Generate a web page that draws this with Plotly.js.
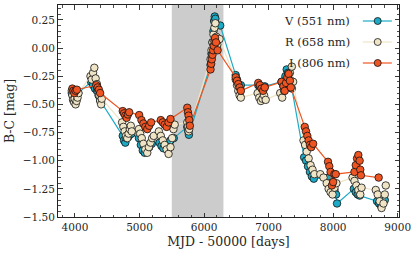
<!DOCTYPE html>
<html>
<head>
<meta charset="utf-8">
<script src="https://cdn.plot.ly/plotly-3.0.1.min.js"></script>
<style>html,body{margin:0;padding:0;background:#fff}#chart{width:415px;height:256px}</style>
</head>
<body>
<div id="chart"></div>
<script>
// ---- data (MJD - 50000, B-C colour) ----
const seriesNames = ["V (551 nm)", "R (658 nm)", "I (806 nm)"];

const mjdV = [3950,3965,3980,3995,4010,4030,4050,
  4250,4280,4310,4340,4365,4390,4405,
  4740,4760,4780,4800,4825,4850,4875,
  4990,5020,5050,5080,5110,5150,5190,
  5310,5340,5370,5400,5440,5480,5530,
  5740,5755,5765,
  6100,6115,6130,6145,6155,6165,6175,6250,
  6490,6510,6530,6550,6570,
  6840,6865,6890,6915,6940,
  7200,7230,7260,7280,7300,7330,7360,
  7550,7580,7610,7640,7670,7700,
  7930,7960,7990,8020,8045,8060,
  8320,8350,8380,8410,
  8680,8710,8740,8770,8800];
const bcV = [-0.40,-0.42,-0.44,-0.43,-0.41,-0.42,-0.40,
  -0.30,-0.33,-0.36,-0.38,-0.42,-0.46,-0.48,
  -0.78,-0.82,-0.84,-0.80,-0.79,-0.77,-0.76,
  -0.80,-0.86,-0.91,-0.93,-0.90,-0.88,-0.85,
  -0.84,-0.87,-0.89,-0.86,-0.84,-0.82,-0.80,
  -0.70,-0.74,-0.77,
  -0.15,-0.05,0.05,0.15,0.24,0.28,0.26,0.20,
  -0.24,-0.28,-0.32,-0.35,-0.33,
  -0.33,-0.35,-0.37,-0.36,-0.34,
  -0.30,-0.34,-0.25,-0.19,-0.22,-0.28,-0.36,
  -0.97,-1.00,-1.05,-1.10,-1.14,-1.16,
  -1.15,-1.20,-1.22,-1.26,-1.30,-1.38,
  -1.25,-1.28,-1.30,-1.31,
  -1.36,-1.38,-1.40,-1.37,-1.35];

const mjdR = [3950,3960,3970,3985,3995,4010,4025,4040,4055,
  4240,4260,4280,4300,4320,4340,4360,4375,4390,4405,4415,
  4730,4750,4770,4790,4810,4830,4850,4865,4880,
  4990,5010,5035,5060,5090,5120,5145,5170,5195,5220,
  5300,5330,5360,5390,5420,5450,5480,5505,5525,5545,
  5740,5750,5760,5770,
  6100,6115,6130,6145,6160,6175,6190,6205,6240,
  6490,6510,6530,6550,6570,
  6830,6855,6880,6905,6930,6955,
  7180,7210,7240,7270,7300,7330,7360,7380,
  7540,7565,7590,7620,7650,7680,7710,
  7800,7850,7900,7930,7960,7990,8020,8050,
  8300,8330,8360,8390,8420,8440,
  8660,8690,8720,8750,8780,8800,8815];
const bcR = [-0.38,-0.42,-0.46,-0.48,-0.45,-0.50,-0.47,-0.44,-0.40,
  -0.25,-0.28,-0.22,-0.175,-0.27,-0.32,-0.38,-0.42,-0.47,-0.50,-0.45,
  -0.66,-0.70,-0.74,-0.78,-0.80,-0.76,-0.72,-0.69,-0.74,
  -0.72,-0.76,-0.80,-0.85,-0.90,-0.93,-0.88,-0.84,-0.80,-0.78,
  -0.74,-0.78,-0.82,-0.86,-0.90,-0.94,-0.88,-0.80,-0.72,-0.68,
  -0.66,-0.70,-0.74,-0.72,
  -0.10,-0.02,0.05,0.12,0.18,0.22,0.10,0.03,0.08,
  -0.28,-0.33,-0.38,-0.42,-0.44,
  -0.40,-0.44,-0.47,-0.45,-0.42,-0.46,
  -0.40,-0.44,-0.38,-0.30,-0.26,-0.22,-0.165,-0.30,
  -0.82,-0.86,-0.92,-0.98,-1.04,-1.08,-1.12,
  -1.12,-1.15,-1.20,-1.25,-1.28,-1.30,-1.24,-1.20,
  -1.15,-1.18,-1.22,-1.26,-1.30,-1.24,
  -1.26,-1.30,-1.36,-1.42,-1.38,-1.30,-1.22];

const mjdI = [3960,3975,3990,4010,4030,
  4330,4350,4370,4390,
  4740,4760,4780,4800,4820,4840,
  4995,
  5030,5060,5090,5120,5150,5180,
  5330,5360,5390,5420,5450,5480,
  5740,5750,5760,5770,5780,
  6100,6110,6120,6130,6140,6150,6160,6170,6185,6210,
  6490,6510,6530,6550,6570,
  6840,6865,6890,6915,6940,
  7200,7230,7250,7270,7290,7310,7330,7345,
  7560,7580,7600,7620,7640,7660,7690,
  7920,7940,7960,7980,8000,8020,8040,
  8330,8350,8370,8390,8410,8420,8430,
  8705];
const bcI = [-0.36,-0.38,-0.40,-0.38,-0.37,
  -0.33,-0.35,-0.37,-0.40,
  -0.56,-0.58,-0.60,-0.62,-0.59,-0.57,
  -0.595,
  -0.64,-0.67,-0.70,-0.72,-0.69,-0.66,
  -0.64,-0.66,-0.68,-0.70,-0.66,-0.63,
  -0.53,-0.57,-0.60,-0.64,-0.69,
  -0.19,-0.14,-0.10,-0.06,-0.02,0.02,0.06,0.09,0.05,-0.02,
  -0.26,-0.29,-0.32,-0.35,-0.38,
  -0.31,-0.33,-0.36,-0.38,-0.35,
  -0.30,-0.34,-0.38,-0.31,-0.26,-0.23,-0.29,-0.35,
  -0.70,-0.74,-0.78,-0.82,-0.86,-0.88,-0.85,
  -1.01,-1.05,-1.10,-1.22,-1.19,-1.12,-1.12,
  -1.10,-1.04,-0.98,-0.95,-1.00,-1.08,-1.13,
  -1.15];

const gapStart = 5500, gapEnd = 6300;

// ---- styling ----
const colV = "#1cabc6", colR = "#efe5c6", colI = "#ef5522";
const FONT = "'DejaVu Serif', serif";
const TXT = "#262626";

function tr(x, y, c, name) {
  return {x: x, y: y, name: name, type: "scatter", mode: "lines+markers",
    line: {color: c, width: 1.2},
    marker: {color: c, size: 7.5, line: {color: "#111", width: 0.8}},
    showlegend: false, hoverinfo: "skip"};
}

const data = [tr(mjdV, bcV, colV, seriesNames[0]),
              tr(mjdR, bcR, colR, seriesNames[1]),
              tr(mjdI, bcI, colI, seriesNames[2])];

const legCols = [colV, colR, colI];
const legY = [0.9245, 0.8255, 0.7264];
const shapes = [{type: "rect", xref: "x", yref: "paper", x0: gapStart, x1: gapEnd, y0: 0, y1: 1,
  fillcolor: "#cccccc", line: {width: 0}, layer: "below"}];
const annotations = [];
seriesNames.forEach((n, i) => {
  shapes.push({type: "line", xref: "paper", yref: "paper", x0: 0.894, x1: 0.979, y0: legY[i], y1: legY[i],
    line: {color: legCols[i], width: 1.2}});
  shapes.push({type: "circle", xref: "paper", yref: "paper", xsizemode: "pixel", ysizemode: "pixel",
    xanchor: 0.9375, yanchor: legY[i], x0: -3.5, x1: 3.5, y0: -3.5, y1: 3.5,
    fillcolor: legCols[i], line: {color: "#111", width: 0.8}});
  annotations.push({xref: "paper", yref: "paper", x: 0.862, y: legY[i], xanchor: "right", yanchor: "middle",
    text: n, showarrow: false, font: {family: FONT, size: 11.5, color: TXT}});
});

const axBase = {showline: true, linecolor: "#222", linewidth: 1, mirror: "allticks",
  ticks: "inside", ticklen: 4.5, tickwidth: 0.9, tickcolor: "#222", showgrid: false, zeroline: false,
  tickfont: {family: FONT, size: 10.5, color: TXT}};

const layout = {
  font: {family: FONT},
  width: 415, height: 256,
  margin: {l: 58, r: 16, t: 5, b: 39},
  paper_bgcolor: "#fff", plot_bgcolor: "#fff",
  xaxis: Object.assign({}, axBase, {range: [3737, 9020], dtick: 1000, tick0: 0, tickformat: "d",
    minor: {ticks: "inside", dtick: 200, ticklen: 2.5, tickwidth: 0.8, tickcolor: "#222"},
    title: {text: "MJD - 50000 [days]", font: {family: FONT, size: 12.5, color: TXT}, standoff: 5}}),
  yaxis: Object.assign({}, axBase, {range: [-1.5, 0.382], dtick: 0.25, tick0: 0, tickformat: ".2f",
    minor: {ticks: "inside", dtick: 0.05, ticklen: 2.5, tickwidth: 0.8, tickcolor: "#222"},
    title: {text: "B-C [mag]", font: {family: FONT, size: 12.5, color: TXT}, standoff: 5}}),
  shapes: shapes, annotations: annotations, showlegend: false
};

Plotly.newPlot("chart", data, layout, {staticPlot: true, displayModeBar: false});
</script>
</body>
</html>
